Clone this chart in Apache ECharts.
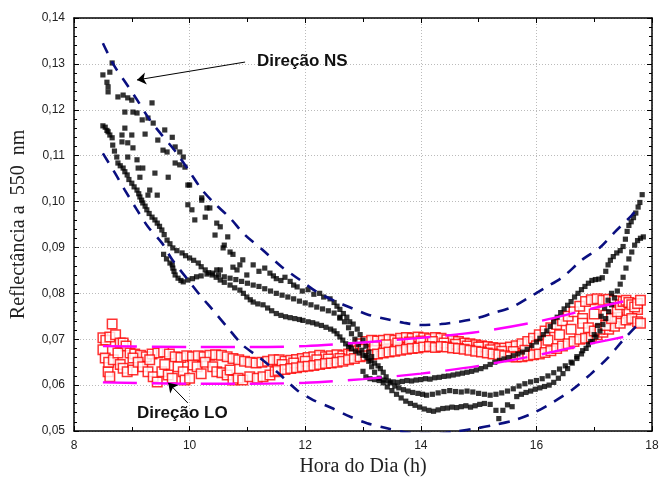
<!DOCTYPE html>
<html>
<head>
<meta charset="utf-8">
<script src="https://cdn.jsdelivr.net/npm/echarts@6/dist/echarts.min.js"></script>
<style>
  html, body { margin: 0; padding: 0; background: #fff; }
  #chart { width: 664px; height: 478px; }
</style>
</head>
<body>
<div id="chart"></div>
<script>
// NS direction (black filled squares), several daily tracks
const nsMain = [
  [8.5,0.1165],[8.54,0.1162],[8.57,0.1155],[8.59,0.1152],[8.62,0.1145],[8.66,0.1139],[8.67,0.1123],[8.7,0.111],
  [8.74,0.1097],[8.76,0.1084],[8.8,0.1078],[8.85,0.1073],[8.88,0.1065],[8.92,0.1058],[8.95,0.1048],[9.0,0.104],
  [9.04,0.1032],[9.09,0.1025],[9.12,0.1017],[9.14,0.101],[9.17,0.1003],[9.19,0.0997],[9.23,0.099],[9.26,0.0982],
  [9.3,0.0974],[9.35,0.0966],[9.4,0.096],[9.44,0.0953],[9.48,0.0946],[9.52,0.0938],[9.56,0.0928],[9.61,0.0916],
  [9.66,0.0908],[9.71,0.0899],[9.78,0.0893],[9.87,0.0888],[9.93,0.0882],[10.0,0.0877],[10.07,0.0872],[10.15,0.0866],
  [10.2,0.0858],[10.27,0.0851],[10.33,0.0845],[10.39,0.084],[10.46,0.0835],[10.53,0.0829],[10.6,0.0824],[10.7,0.0818],
  [10.78,0.0812],[10.87,0.0807],[10.93,0.08],[10.99,0.0792],[11.05,0.0786],[11.1,0.0781],[11.18,0.0777],[11.27,0.0775],
  [11.35,0.0768],[11.42,0.0762],[11.5,0.0756],[11.58,0.0752],[11.66,0.0749],[11.74,0.0747],[11.82,0.0745],[11.9,0.0743],
  [11.96,0.0741],[12.05,0.0738],[12.13,0.0736],[12.2,0.0733],[12.28,0.073],[12.36,0.0726],[12.44,0.0722],[12.5,0.0718],
  [12.55,0.0712],[12.6,0.0705],[12.65,0.0698],[12.7,0.069],[12.75,0.0684],[12.8,0.0679],[12.87,0.0674],[12.93,0.067],
  [13.0,0.0665],[13.07,0.066],[13.14,0.0653],[13.2,0.0648],[13.26,0.0642],[13.3,0.0636],[13.35,0.0628],[13.4,0.0618],
  [13.47,0.0605],[13.55,0.0598],[13.62,0.0594],[13.7,0.059],[13.78,0.0587],[13.86,0.0584],[13.95,0.0582],[14.03,0.058],
  [14.1,0.0578],[14.2,0.058],[14.3,0.0583],[14.4,0.0586],[14.5,0.0588],[14.6,0.0586],[14.7,0.0585],[14.8,0.0587],
  [14.9,0.0585],[15.0,0.0582],[15.1,0.058],[15.2,0.0578],[15.3,0.058],[15.4,0.0583],[15.5,0.0587],[15.6,0.0592],
  [15.7,0.0598],[15.8,0.0603],[15.9,0.0607],[16.0,0.061],[16.1,0.0614],[16.2,0.062],[16.3,0.0627],[16.4,0.0635],
  [16.5,0.0642],[16.6,0.065],[16.7,0.0662],[16.8,0.0675],[16.9,0.0688],[16.97,0.0695],[17.03,0.0705],[17.1,0.0718],
  [17.15,0.0732],[17.2,0.0745],[17.25,0.076],[17.3,0.0775],[17.35,0.079],[17.4,0.0805],[17.45,0.082],[17.5,0.0835],
  [17.55,0.0855],[17.6,0.0875],[17.65,0.089],[17.7,0.0905],[17.75,0.0915],[17.8,0.092],[17.85,0.0923]
];
const nsSecond = [
  [9.55,0.0885],[9.6,0.0875],[9.66,0.0866],[9.7,0.0862],[9.71,0.0855],[9.73,0.0848],[9.75,0.084],[9.8,0.0833],
  [9.85,0.0828],[9.89,0.0825],[9.97,0.0829],[10.05,0.0832],[10.12,0.0836],[10.2,0.0838],[10.3,0.0842],[10.4,0.0844],
  [10.5,0.084],[10.6,0.0836],[10.7,0.0833],[10.8,0.083],[10.9,0.0826],[11.0,0.0822],[11.1,0.0818],[11.2,0.0815],
  [11.3,0.081],[11.4,0.0805],[11.5,0.08],[11.6,0.0796],[11.7,0.0792],[11.8,0.0788],[11.9,0.0783],[12.0,0.0779],
  [12.1,0.0775],[12.2,0.077],[12.3,0.0766],[12.4,0.0762],[12.5,0.0757],[12.6,0.0748],[12.68,0.0738],[12.75,0.0725],
  [12.8,0.0712],[12.86,0.07],[12.92,0.0688],[12.98,0.0676],[13.05,0.0664],[13.1,0.0652],[13.15,0.064],[13.2,0.0628],
  [13.28,0.0615],[13.35,0.0605],[13.42,0.0596],[13.5,0.0588],[13.58,0.058],[13.66,0.0572],[13.74,0.0565],[13.82,0.056],
  [13.9,0.0556],[13.98,0.0552],[14.06,0.0548],[14.14,0.0545],[14.22,0.0543],[14.3,0.0546],[14.38,0.0549],[14.46,0.055],
  [14.54,0.0552],[14.62,0.0551],[14.7,0.0553],[14.78,0.0555],[14.86,0.0552],[14.94,0.0555],[15.02,0.0558],[15.1,0.056],
  [15.2,0.0558],[15.3,0.0545],[15.35,0.0527],[15.42,0.0545],[15.5,0.0557],[15.58,0.0553],[15.66,0.0575],[15.74,0.058],
  [15.82,0.0584],[15.9,0.0587],[15.98,0.0591],[16.06,0.0594],[16.14,0.0597],[16.22,0.06],[16.3,0.0606],[16.38,0.0615],
  [16.46,0.0625],[16.54,0.0636],[16.62,0.0648],[16.7,0.0658],[16.78,0.0668],[16.86,0.068],[16.94,0.0695],[17.0,0.071],
  [17.06,0.073],[17.12,0.075],[17.18,0.0768],[17.24,0.0785],[17.3,0.08]
];
const nsSparse = [
  [8.66,0.1302],[8.62,0.1282],[8.5,0.1276],[8.57,0.126],[8.59,0.125],[8.59,0.1239],[8.76,0.1228],[8.85,0.1232],
  [8.93,0.1226],[9.0,0.1221],[9.35,0.1215],[8.88,0.1195],[9.02,0.1195],[9.09,0.1193],[9.18,0.1178],[9.28,0.1182],
  [8.88,0.116],[8.83,0.1145],[9.0,0.1145],[9.23,0.1147],[9.37,0.1171],[9.57,0.1156],[9.7,0.114],[9.45,0.1134],
  [8.83,0.113],[8.93,0.1128],[9.02,0.1117],[9.54,0.1112],[9.61,0.1108],[9.75,0.1119],[9.83,0.1108],[9.89,0.1097],
  [8.93,0.1097],[9.09,0.1091],[9.11,0.1073],[9.19,0.1073],[9.14,0.1053],[9.4,0.1062],[9.63,0.1053],[9.75,0.1084],
  [9.83,0.108],[9.92,0.1075],[9.31,0.1025],[9.28,0.1014],[9.44,0.1014],[9.97,0.1036],[10.21,0.1008],[10.0,0.1036],
  [9.97,0.0993],[10.04,0.0982],[10.21,0.1003],[10.3,0.0986],[10.35,0.0986],[10.27,0.0966],[10.09,0.096],[10.47,0.0953],
  [10.53,0.0945],[10.44,0.0927],[10.66,0.0923],[10.58,0.0899],[10.7,0.089],[10.92,0.0873],[10.87,0.0862],[10.75,0.0857],
  [10.47,0.0851],[10.53,0.0851],[10.82,0.0851],[10.99,0.084],[10.6,0.0905],[10.75,0.0885],[11.1,0.0862],[11.2,0.0848],
  [11.3,0.0855],[11.39,0.0844],[11.45,0.0838],[11.5,0.0832],[11.58,0.0828],[11.65,0.0835],[11.74,0.0826],[11.8,0.0818],
  [11.86,0.0814],[11.95,0.0805],[12.05,0.0808],[12.15,0.0798],[12.25,0.08],[12.32,0.0792],[12.43,0.0788],[12.5,0.078],
  [12.55,0.0772],[12.6,0.0765],[12.66,0.0756],[12.72,0.0748],[12.77,0.0738],[12.83,0.0733],[12.9,0.0722],[12.95,0.071],
  [13.0,0.0698],[13.05,0.0685],[13.1,0.0672],[13.15,0.0662],[12.6,0.0746],[12.78,0.0688],[13.0,0.063]
];
const nsLate = [
  [13.05,0.0618],[13.12,0.0614],[13.2,0.0612],[13.28,0.061],[13.36,0.0611],[13.44,0.0609],[13.52,0.0607],[13.6,0.0606],
  [13.68,0.0608],[13.76,0.061],[13.84,0.0609],[13.92,0.0611],[14.0,0.0612],[14.08,0.0614],[14.16,0.0613],[14.24,0.0616],
  [14.32,0.0617],[14.4,0.0619],[14.48,0.062],[14.56,0.0622],[14.64,0.0624],[14.72,0.0626],[14.8,0.0628],[14.88,0.063],
  [14.96,0.0633],[15.04,0.0636],[15.12,0.064],[15.2,0.0645],[15.28,0.065],[15.36,0.0654],[15.44,0.0657],[15.52,0.066],
  [15.6,0.0664],[15.68,0.0668],[15.76,0.0672],[15.84,0.0678],[15.92,0.0686],[16.0,0.0694],[16.06,0.0702],[16.12,0.071],
  [16.18,0.0718],[16.24,0.0728],[16.3,0.0738],[16.36,0.0748],[16.42,0.0758],[16.48,0.0766],[16.54,0.0774],[16.6,0.0782],
  [16.66,0.0792],[16.72,0.08],[16.78,0.0808],[16.84,0.0815],[16.9,0.0822],[16.96,0.0828],[17.02,0.083],[17.08,0.0831],
  [17.14,0.0834],[17.2,0.0848],[17.24,0.0862],[17.28,0.0872],[17.33,0.088],[17.39,0.0888],[17.45,0.0893],[17.5,0.0902],
  [17.54,0.0918],[17.57,0.0935],[17.6,0.0948],[17.64,0.0956],[17.68,0.0965],[17.72,0.0975],[17.76,0.0988],[17.79,0.0998],
  [17.83,0.1015]
];

// LO direction (red hollow squares)
const loUpper = [
  [8.5,0.0703],[8.55,0.0698],[8.62,0.0705],[8.66,0.0733],[8.72,0.071],[8.8,0.0692],[8.85,0.0692],[8.9,0.0685],
  [8.97,0.067],[9.05,0.0668],[9.15,0.0665],[9.25,0.0662],[9.35,0.0668],[9.45,0.067],[9.55,0.0672],[9.65,0.0668],
  [9.75,0.0662],[9.85,0.066],[9.95,0.0664],[10.05,0.0662],[10.15,0.0664],[10.25,0.0662],[10.35,0.0665],[10.45,0.0666],
  [10.55,0.0665],[10.65,0.0662],[10.75,0.0658],[10.85,0.0655],[10.95,0.0652],[11.05,0.065],[11.15,0.0648],[11.25,0.065],
  [11.35,0.0652],[11.45,0.0655],[11.55,0.0655],[11.65,0.0652],[11.75,0.0654],[11.85,0.0656],[11.95,0.0658],[12.05,0.066],
  [12.15,0.0662],[12.25,0.0665],[12.35,0.0662],[12.45,0.0664],[12.55,0.0666],[12.65,0.0664],[12.75,0.0668],[12.85,0.0675],
  [12.95,0.069],[13.05,0.0695],[13.15,0.0698],[13.25,0.0696],[13.35,0.0698],[13.45,0.07],[13.55,0.0698],[13.65,0.0702],
  [13.75,0.0704],[13.85,0.0702],[13.95,0.0705],[14.05,0.0703],[14.15,0.0701],[14.25,0.0704],[14.35,0.0702],[14.45,0.0699],
  [14.55,0.0697],[14.65,0.0695],[14.75,0.0692],[14.85,0.069],[14.95,0.0688],[15.05,0.0686],[15.15,0.0684],[15.25,0.0682],
  [15.35,0.068],[15.45,0.0681],[15.55,0.0683],[15.65,0.0686],[15.75,0.069],[15.85,0.0695],[15.95,0.0702],[16.05,0.071],
  [16.15,0.0718],[16.25,0.0725],[16.35,0.0732],[16.45,0.074],[16.55,0.075],[16.65,0.076],[16.75,0.0772],[16.85,0.0782],
  [16.95,0.0786],[17.05,0.0788],[17.15,0.0785],[17.25,0.0787],[17.35,0.0784]
];
const loMid = [
  [11.6,0.0645],[11.8,0.0648],[12.0,0.0652],[12.2,0.0655],[12.4,0.0657],[12.6,0.0658],[12.8,0.0665],[13.0,0.0678],
  [13.2,0.0684],[13.4,0.0688],[13.6,0.0692],[13.8,0.0694],[14.0,0.0696],[14.2,0.0695],[14.4,0.0692],[14.6,0.0689],
  [14.8,0.0685],[15.0,0.0683],[15.2,0.0677],[15.4,0.0674],[15.6,0.0673],[15.8,0.0676],[16.0,0.0686],[16.2,0.0698],
  [16.4,0.071],[16.6,0.0722],[16.8,0.0745],[17.0,0.0755],[17.2,0.0752],[17.4,0.0748],[17.6,0.0758],[17.75,0.0765]
];
const loLower = [
  [8.5,0.0677],[8.54,0.0659],[8.59,0.0629],[8.6,0.065],[8.62,0.0618],[8.68,0.0655],[8.76,0.067],[8.8,0.0645],
  [8.85,0.0637],[8.92,0.0629],[9.02,0.0633],[9.02,0.0659],[9.11,0.065],[9.19,0.064],[9.28,0.0629],[9.31,0.0655],
  [9.37,0.0618],[9.44,0.0607],[9.52,0.0629],[9.57,0.0645],[9.63,0.0622],[9.7,0.0615],[9.8,0.064],[9.89,0.0629],
  [9.92,0.0611],[10.0,0.0615],[10.06,0.0644],[10.13,0.064],[10.2,0.0625],[10.27,0.065],[10.4,0.064],[10.47,0.0629],
  [10.56,0.0627],[10.65,0.0622],[10.7,0.0633],[10.75,0.0611],[10.84,0.0615],[10.92,0.0611],[11.04,0.0618],[11.17,0.0615],
  [11.27,0.0618],[11.39,0.0622],[11.48,0.0629],[11.53,0.0632],[11.65,0.0634],[11.75,0.0636],[11.85,0.0638],[11.95,0.064],
  [12.05,0.0641],[12.15,0.0643],[12.25,0.0645],[12.35,0.0647],[12.45,0.0648],[12.55,0.065],[12.65,0.0652],[12.75,0.0655],
  [12.85,0.0658],[12.95,0.0662],[13.05,0.0664],[13.15,0.0666],[13.25,0.0668],[13.35,0.067],[13.45,0.0672],[13.55,0.0674],
  [13.65,0.0676],[13.75,0.0678],[13.85,0.068],[13.95,0.0681],[14.05,0.0683],[14.15,0.0684],[14.25,0.0682],[14.35,0.0684],
  [14.45,0.0683],[14.55,0.0681],[14.65,0.068],[14.75,0.0678],[14.85,0.0676],[14.95,0.0674],[15.05,0.0672],[15.15,0.067],
  [15.25,0.0668],[15.35,0.0666],[15.45,0.0664],[15.55,0.0662],[15.65,0.0661],[15.75,0.0662],[15.85,0.0664],[15.95,0.0666],
  [16.05,0.0668],[16.15,0.0671],[16.25,0.0675],[16.35,0.068],[16.45,0.0685],[16.55,0.069],[16.65,0.0695],[16.75,0.07],
  [16.85,0.0702],[16.95,0.0705],[17.05,0.071],[17.15,0.0715],[17.25,0.0722],[17.35,0.0728],[17.45,0.0735],[17.55,0.0742],
  [17.65,0.0745],[17.75,0.0738],[17.8,0.0735]
];
const loLate = [
  [16.8,0.0735],[16.9,0.0725],[17.0,0.0718],[17.1,0.0722],[17.2,0.073],[17.3,0.0745],[17.4,0.076],[17.45,0.0775],
  [17.5,0.0782],[17.55,0.0785],[17.6,0.078],[17.65,0.0775],[17.7,0.077],[17.75,0.0778],[17.8,0.0785]
];

// envelope curves
const nsUpperEnv = [
  [8.5,0.1345],[8.7,0.1295],[8.9,0.1258],[9.1,0.122],[9.3,0.118],[9.5,0.1148],[9.75,0.111],[10.0,0.1065],
  [10.2,0.1028],[10.4,0.1],[10.7,0.0964],[10.96,0.0927],[11.27,0.0894],[11.6,0.0857],[11.9,0.083],[12.2,0.0803],
  [12.5,0.0784],[12.8,0.0768],[13.1,0.0753],[13.4,0.0744],[13.7,0.0736],[14.0,0.0731],[14.35,0.0733],[14.65,0.0738],
  [14.95,0.0745],[15.25,0.0757],[15.58,0.077],[15.86,0.079],[16.15,0.0812],[16.46,0.0836],[16.79,0.0873],[17.1,0.09],
  [17.36,0.0934],[17.65,0.097],[17.75,0.0985]
];
const nsLowerEnv = [
  [8.5,0.1105],[8.71,0.1062],[8.88,0.1025],[9.09,0.0982],[9.28,0.0945],[9.52,0.091],[9.7,0.0873],[9.95,0.0833],
  [10.18,0.0796],[10.4,0.0764],[10.66,0.0725],[10.92,0.0687],[11.22,0.0659],[11.51,0.0629],[11.86,0.0589],[12.13,0.0568],
  [12.46,0.055],[12.78,0.0531],[13.07,0.0517],[13.38,0.0507],[13.7,0.0498],[14.0,0.0494],[14.3,0.0494],[14.6,0.0499],
  [14.97,0.0506],[15.3,0.0514],[15.63,0.0524],[15.96,0.054],[16.29,0.0563],[16.62,0.059],[16.94,0.0624],[17.24,0.066],
  [17.5,0.0698],[17.8,0.0738]
];
const loUpperEnv = [
  [8.5,0.0685],[10,0.0683],[11,0.0683],[12,0.0685],[13,0.0693],[14,0.0703],[15,0.0716],[16,0.0738],[17,0.0768],[17.75,0.0789]
];
const loLowerEnv = [
  [8.5,0.0606],[10,0.0603],[11,0.0603],[12,0.0605],[13,0.0613],[14,0.0625],[15,0.0642],[16,0.0665],[17,0.0692],[17.75,0.0711]
];

// annotation arrows: [tail, head]
const arrowNS = [[10.96,0.1304],[9.09,0.1265]]
const arrowLO = [[9.97,0.0561],[9.63,0.0605]]

const sansFont = '"Liberation Sans", Arial, sans-serif'
const serifFont = '"Liberation Serif", "Times New Roman", serif'

const xAxisBase = {
    type: 'value',
    min: 8,
    max: 18,
    interval: 2,
    axisLine: { onZero: false, lineStyle: { color: '#000', width: 1.5 } },
    axisTick: { inside: true, length: 5, lineStyle: { color: '#000' } },
    minorTick: { show: true, splitNumber: 2, length: 4, lineStyle: { color: '#000' } },
}
const yAxisBase = {
    type: 'value',
    min: 0.05,
    max: 0.14,
    interval: 0.01,
    axisLine: { onZero: false, lineStyle: { color: '#000', width: 1.5 } },
    axisTick: { inside: true, length: 5, lineStyle: { color: '#000' } },
    minorTick: { show: true, splitNumber: 5, length: 3, lineStyle: { color: '#000' } },
}

const blackStyle = { color: '#000' }
const redStyle = { color: '#fff', borderColor: '#ff0000', borderWidth: 1.5 }
const blackSize = 5.2
const redSize = 9.5

const option = {
    animation: false,
    backgroundColor: '#fff',
    grid: { left: 74, right: 12, top: 18, bottom: 47, outerBoundsMode: 'none' },
    xAxis: [
        {
            ...xAxisBase,
            position: 'bottom',
            name: 'Hora do Dia (h)',
            nameLocation: 'middle',
            nameGap: 25,
            nameTextStyle: { fontFamily: serifFont, fontSize: 20, color: '#222' },
            axisLabel: { fontFamily: sansFont, fontSize: 12, color: '#222', margin: 9 },
            splitLine: { show: true, lineStyle: { color: '#bbb', type: [1, 2], width: 1 } },
        },
        {
            ...xAxisBase,
            position: 'top',
            axisLabel: { show: false },
            splitLine: { show: false },
        },
    ],
    yAxis: [
        {
            ...yAxisBase,
            position: 'left',
            name: 'Reflectância a  550  nm',
            nameLocation: 'middle',
            nameGap: 45,
            nameTextStyle: { fontFamily: serifFont, fontSize: 20, color: '#222' },
            axisLabel: {
                fontFamily: sansFont,
                fontSize: 12,
                color: '#222',
                margin: 9,
                formatter: v => v.toFixed(2).replace('.', ','),
            },
            splitLine: { show: true, lineStyle: { color: '#bbb', type: [1, 2], width: 1 } },
        },
        {
            ...yAxisBase,
            position: 'right',
            axisLabel: { show: false },
            splitLine: { show: false },
        },
    ],
    series: [
        { type: 'scatter', data: loUpper, symbol: 'rect', symbolSize: redSize, itemStyle: redStyle, z: 2 },
        { type: 'scatter', data: loMid, symbol: 'rect', symbolSize: redSize, itemStyle: redStyle, z: 2 },
        { type: 'scatter', data: loLower, symbol: 'rect', symbolSize: redSize, itemStyle: redStyle, z: 2 },
        { type: 'scatter', data: loLate, symbol: 'rect', symbolSize: redSize, itemStyle: redStyle, z: 2 },
        { type: 'scatter', data: nsMain, symbol: 'rect', symbolSize: blackSize, itemStyle: blackStyle, z: 3 },
        { type: 'scatter', data: nsSecond, symbol: 'rect', symbolSize: blackSize, itemStyle: blackStyle, z: 3 },
        { type: 'scatter', data: nsSparse, symbol: 'rect', symbolSize: blackSize, itemStyle: blackStyle, z: 3 },
        { type: 'scatter', data: nsLate, symbol: 'rect', symbolSize: blackSize, itemStyle: blackStyle, z: 3 },
        {
            type: 'line', data: nsUpperEnv, smooth: 0.3, symbol: 'none', z: 4,
            lineStyle: { color: '#0a0f80', width: 2.6, type: [11, 9] },
        },
        {
            type: 'line', data: nsLowerEnv, smooth: 0.3, symbol: 'none', z: 4,
            lineStyle: { color: '#0a0f80', width: 2.6, type: [11, 9] },
        },
        {
            type: 'line', data: loUpperEnv, smooth: 0.3, symbol: 'none', z: 4,
            lineStyle: { color: '#ff00ff', width: 2.4, type: [34, 15] },
        },
        {
            type: 'line', data: loLowerEnv, smooth: 0.3, symbol: 'none', z: 4,
            lineStyle: { color: '#ff00ff', width: 2.4, type: [34, 15] },
        },
        {
            type: 'line',
            data: [],
            z: 5,
            markLine: {
                silent: true,
                symbol: ['none', 'arrow'],
                symbolSize: 9,
                label: { show: false },
                lineStyle: { color: '#000', width: 1, type: 'solid' },
                data: [
                    [{ coord: arrowNS[0] }, { coord: arrowNS[1] }],
                    [{ coord: arrowLO[0] }, { coord: arrowLO[1] }],
                ],
            },
        },
    ],
    graphic: [
        {
            type: 'text', left: 257, top: 53, z: 10,
            style: { text: 'Direção NS', font: `bold 17px ${sansFont}`, fill: '#111' },
        },
        {
            type: 'text', left: 137, top: 405, z: 10,
            style: { text: 'Direção LO', font: `bold 17px ${sansFont}`, fill: '#111' },
        },
    ],
}

const myechart = echarts.init(document.getElementById('chart'), null, { renderer: 'canvas' })
myechart.setOption(option)
</script>
</body>
</html>
